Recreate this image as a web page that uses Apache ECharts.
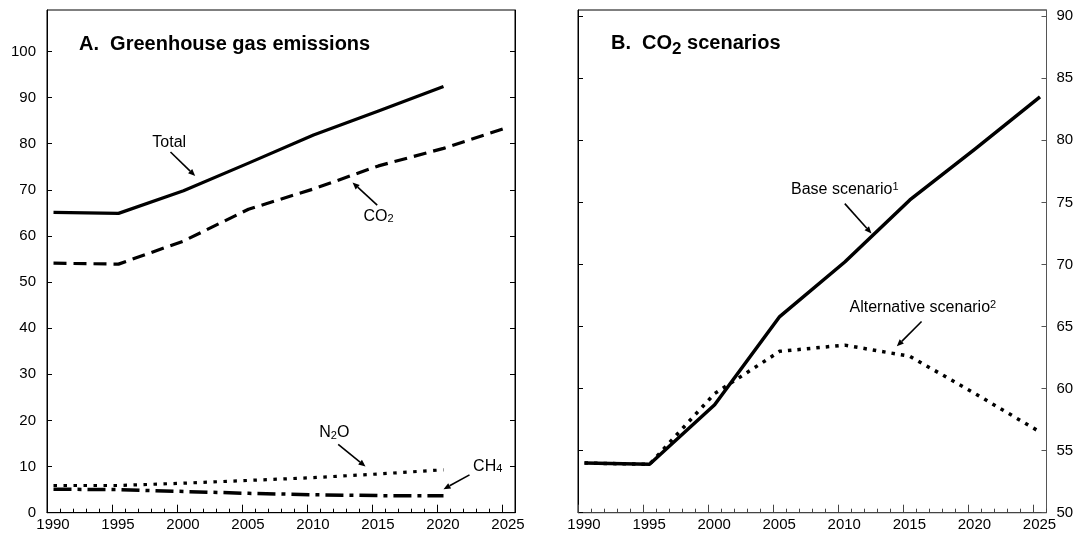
<!DOCTYPE html>
<html>
<head>
<meta charset="utf-8">
<script src="https://cdn.jsdelivr.net/npm/echarts@6/dist/echarts.min.js"></script>
<style>
html,body{margin:0;padding:0;background:#fff;}
#c{width:1079px;height:536px;}
</style>
</head>
<body>
<div id="c"></div>
<script>
const years = [1990, 1995, 2000, 2005, 2010, 2015, 2020, 2025];
const totalGHG = [65.1, 64.9, 69.8, 75.8, 81.9, 87.1, 92.4, null];
const co2 = [54.1, 53.9, 58.9, 65.8, 70.2, 75.2, 79.0, 83.6];
const n2o = [5.9, 5.9, 6.4, 7.0, 7.6, 8.4, 9.3, null];
const ch4 = [5.1, 5.0, 4.6, 4.2, 3.9, 3.7, 3.7, null];
const baseScenario = [54.0, 53.9, 58.7, 65.8, 70.2, 75.2, 79.3, 83.5];
const altScenario = [54.0, 53.9, 59.6, 63.0, 63.5, 62.6, 59.6, 56.5];
const xTickLabels = [1990, 1995, 2000, 2005, 2010, 2015, 2020, 2025];
const yTicksA = [0, 10, 20, 30, 40, 50, 60, 70, 80, 90, 100];
const yTicksB = [50, 55, 60, 65, 70, 75, 80, 85, 90];

const FF = '"Liberation Sans", Arial, Helvetica, sans-serif';
const minorYears = [];
for (let y = xTickLabels[0]; y <= 2026; y++) minorYears.push(y);

function pts(vals) {
  const out = [];
  years.forEach((y, i) => { if (vals[i] != null) out.push([y + 0.5, vals[i]]); });
  return out;
}

function xMajor(g, color) {
  return {
    type: 'value', gridIndex: g, position: 'bottom', min: 1990, max: 2026,
    axisLine: { show: true, onZero: false, lineStyle: { color: color, width: 1 } },
    axisTick: { show: true, inside: true, length: 8, customValues: xTickLabels, lineStyle: { color: color } },
    axisLabel: { show: true, customValues: xTickLabels, fontSize: 15, color: '#000', fontFamily: FF, margin: 5,
                 padding: [0, 0, 0, 12], formatter: v => String(v) },
    splitLine: { show: false }
  };
}
function xMinor(g, color) {
  return {
    type: 'value', gridIndex: g, position: 'bottom', min: 1990, max: 2026,
    axisLine: { show: false, onZero: false },
    axisTick: { show: true, inside: true, length: 4, customValues: minorYears, lineStyle: { color: color } },
    axisLabel: { show: false },
    splitLine: { show: false }
  };
}
function yAx(g, pos, min, max, ticks, labels, color, margin) {
  return {
    type: 'value', gridIndex: g, position: pos, min: min, max: max,
    axisLine: { show: true, onZero: false, lineStyle: { color: color, width: 1 } },
    axisTick: { show: true, inside: true, length: 5, customValues: ticks, lineStyle: { color: color } },
    axisLabel: { show: labels, customValues: ticks, fontSize: 15, color: '#000', fontFamily: FF, margin: margin },
    splitLine: { show: false }
  };
}
function line(name, data, xi, yi, type, width) {
  return {
    name: name, type: 'line', xAxisIndex: xi, yAxisIndex: yi, data: data,
    symbol: 'none', silent: true, z: 3,
    lineStyle: { color: '#000', width: width, type: type, cap: 'butt', join: 'round' }
  };
}

const chart = echarts.init(document.getElementById('c'), null, { renderer: 'canvas' });
chart.setOption({
  animation: false,
  backgroundColor: '#fff',
  grid: [
    { left: 47, top: 10, width: 468, height: 502.7, show: true, borderColor: '#000', borderWidth: 1, containLabel: false },
    { left: 578, top: 10, width: 468.5, height: 502.7, show: true, borderColor: '#000', borderWidth: 1, containLabel: false }
  ],
  xAxis: [xMajor(0, '#000'), xMinor(0, '#000'), xMajor(1, '#444'), xMinor(1, '#444')],
  yAxis: [
    yAx(0, 'left', 0, 109, yTicksA, true, '#000', 11),
    yAx(0, 'right', 0, 109, yTicksA, false, '#000', 8),
    yAx(1, 'left', 50, 90.5, yTicksB, false, '#000', 8),
    yAx(1, 'right', 50, 90.5, yTicksB, true, '#555', 10)
  ],
  series: [
    line('Total', pts(totalGHG), 0, 0, 'solid', 3.2),
    line('CO2', pts(co2), 0, 0, [13, 7], 3.2),
    line('N2O', pts(n2o), 0, 0, [3.5, 6.5], 3.2),
    line('CH4', pts(ch4), 0, 0, [18, 6, 4, 6], 3.5),
    line('Base scenario', pts(baseScenario), 2, 2, 'solid', 3.5),
    line('Alternative scenario', pts(altScenario), 2, 2, [3.5, 6], 3.5)
  ]
});

// ---------- annotations (anchored in data coordinates) ----------
const rich = {
  m: { fontSize: 16, fontFamily: FF, fill: '#000' },
  sub: { fontSize: 11, fontFamily: FF, fill: '#000', padding: [6, 0, 0, 0] },
  sup: { fontSize: 11, fontFamily: FF, fill: '#000', padding: [0, 0, 6, 0] },
  tb: { fontSize: 20, fontWeight: 'bold', fontFamily: FF, fill: '#000' },
  tsub: { fontSize: 17, fontWeight: 'bold', fontFamily: FF, fill: '#000', padding: [12, 0, 0, 0] }
};
const annotations = [
  { s: 0, text: '{m|Total}', at: [1999.4, 80.3], from: [1999.5, 78.2], to: [2001.4, 73.0] },
  { s: 0, text: '{m|CO}{sub|2}', at: [2015.5, 64.3], from: [2015.4, 66.7], to: [2013.5, 71.6] },
  { s: 0, text: '{m|N}{sub|2}{m|O}', at: [2012.1, 17.3], from: [2012.4, 14.8], to: [2014.5, 10.0] },
  { s: 0, text: '{m|CH}{sub|4}', at: [2023.9, 10.1], from: [2022.5, 8.2], to: [2020.5, 5.1] },
  { s: 4, text: '{m|Base scenario}{sup|1}', at: [2010.5, 76.0], from: [2010.5, 74.9], to: [2012.55, 72.5] },
  { s: 4, text: '{m|Alternative scenario}{sup|2}', at: [2016.5, 66.5], from: [2016.4, 65.4], to: [2014.5, 63.4] }
];

const graphics = [];
graphics.push({ type: 'text', x: 79, y: 44, z: 10,
  style: { text: '{tb|A.  Greenhouse gas emissions}', rich: rich, align: 'left', verticalAlign: 'middle' } });
graphics.push({ type: 'text', x: 611, y: 43, z: 10,
  style: { text: '{tb|B.  CO}{tsub|2}{tb| scenarios}', rich: rich, align: 'left', verticalAlign: 'middle' } });

annotations.forEach(a => {
  const p = chart.convertToPixel({ seriesIndex: a.s }, a.at);
  const p1 = chart.convertToPixel({ seriesIndex: a.s }, a.from);
  const p2 = chart.convertToPixel({ seriesIndex: a.s }, a.to);
  graphics.push({ type: 'text', x: p[0], y: p[1], z: 10,
    style: { text: a.text, rich: rich, align: 'center', verticalAlign: 'middle' } });
  const dx = p2[0] - p1[0], dy = p2[1] - p1[1];
  const len = Math.sqrt(dx * dx + dy * dy);
  const ux = dx / len, uy = dy / len;
  const L = 7, W = 3;
  const bx = p2[0] - ux * L, by = p2[1] - uy * L;
  graphics.push({ type: 'line', z: 10,
    shape: { x1: p1[0], y1: p1[1], x2: bx, y2: by },
    style: { stroke: '#000', lineWidth: 1.6 } });
  graphics.push({ type: 'polygon', z: 10,
    shape: { points: [[p2[0], p2[1]], [bx - uy * W, by + ux * W], [bx + uy * W, by - ux * W]] },
    style: { fill: '#000' } });
});

chart.setOption({ graphic: graphics });
</script>
</body>
</html>
